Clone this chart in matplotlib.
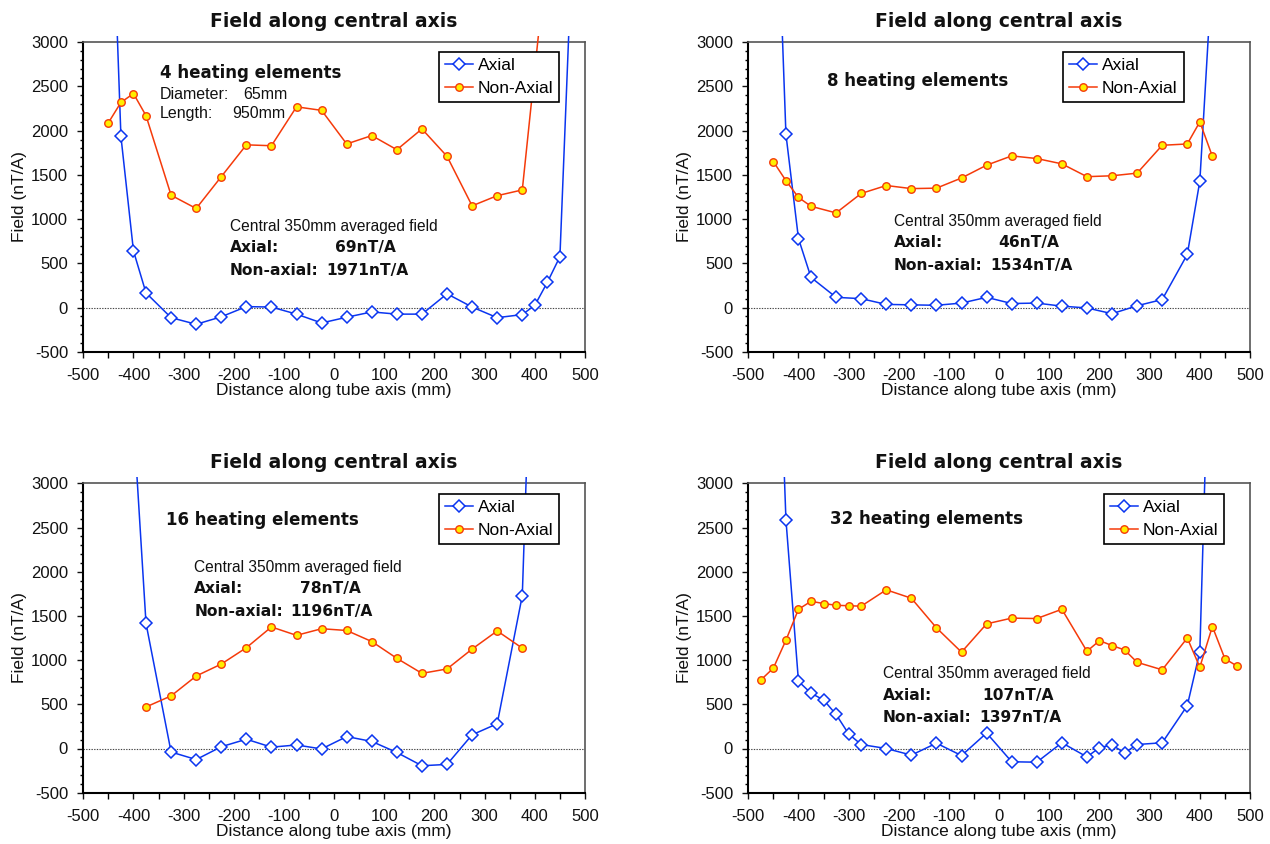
import matplotlib
matplotlib.use("Agg")
import matplotlib.pyplot as plt
from matplotlib.patches import Rectangle
from matplotlib.ticker import MultipleLocator

plt.rcParams['font.family'] = ['Liberation Sans', 'DejaVu Sans']
plt.rcParams['axes.unicode_minus'] = False

# ---------------- data ----------------
titles = ["Field along central axis"] * 4
elements = ["4 heating elements", "8 heating elements",
            "16 heating elements", "32 heating elements"]
axial_avg = ["69nT/A", "46nT/A", "78nT/A", "107nT/A"]
nonaxial_avg = ["1971nT/A", "1534nT/A", "1196nT/A", "1397nT/A"]

# 4 heating elements
p1_na_x = [-450, -425, -400, -375, -325, -275, -225, -175, -125, -75, -25, 25, 75, 125, 175, 225, 275, 325, 375, 425]
p1_na_y = [2090, 2320, 2420, 2170, 1270, 1120, 1480, 1840, 1830, 2270, 2230, 1850, 1945, 1785, 2020, 1710, 1150, 1265, 1330, 4050]
p1_ax_x = [-450, -425, -400, -375, -325, -275, -225, -175, -125, -75, -25, 25, 75, 125, 175, 225, 275, 325, 375, 400, 425, 450, 475]
p1_ax_y = [5900, 1935, 640, 165, -115, -190, -105, 10, 5, -75, -175, -110, -50, -75, -75, 155, 5, -115, -80, 25, 285, 575, 4150]

# 8 heating elements
p2_na_x = [-450, -425, -400, -375, -325, -275, -225, -175, -125, -75, -25, 25, 75, 125, 175, 225, 275, 325, 375, 400, 425]
p2_na_y = [1650, 1435, 1245, 1145, 1070, 1290, 1380, 1345, 1350, 1465, 1610, 1715, 1685, 1625, 1480, 1490, 1520, 1835, 1850, 2100, 1710]
p2_ax_x = [-450, -425, -400, -375, -325, -275, -225, -175, -125, -75, -25, 25, 75, 125, 175, 225, 275, 325, 375, 400, 425]
p2_ax_y = [5900, 1960, 780, 340, 115, 100, 35, 30, 25, 50, 115, 45, 50, 15, -5, -70, 20, 90, 600, 1430, 3850]

# 16 heating elements
p3_na_x = [-375, -325, -275, -225, -175, -125, -75, -25, 25, 75, 125, 175, 225, 275, 325, 375]
p3_na_y = [470, 595, 820, 955, 1140, 1375, 1280, 1355, 1335, 1210, 1020, 850, 900, 1125, 1330, 1135]
p3_ax_x = [-400, -375, -325, -275, -225, -175, -125, -75, -25, 25, 75, 125, 175, 225, 275, 325, 375, 400]
p3_ax_y = [3720, 1415, -40, -125, 20, 105, 15, 40, -5, 135, 80, -45, -195, -180, 155, 280, 1730, 6000]

# 32 heating elements
p4_na_x = [-475, -450, -425, -400, -375, -350, -325, -300, -275, -225, -175, -125, -75, -25, 25, 75, 125, 175, 200, 225, 250, 275, 325, 375, 400, 425, 450, 475]
p4_na_y = [775, 910, 1225, 1575, 1665, 1640, 1620, 1615, 1610, 1795, 1700, 1365, 1090, 1410, 1475, 1470, 1575, 1100, 1220, 1165, 1115, 975, 890, 1250, 920, 1380, 1015, 930]
p4_ax_x = [-450, -425, -400, -375, -350, -325, -300, -275, -225, -175, -125, -75, -25, 25, 75, 125, 175, 200, 225, 250, 275, 325, 375, 400, 425]
p4_ax_y = [6500, 2590, 760, 625, 550, 385, 165, 45, 0, -75, 60, -80, 175, -150, -155, 65, -95, 10, 40, -50, 45, 65, 485, 1095, 6000]

series = [
    (p1_ax_x, p1_ax_y, p1_na_x, p1_na_y),
    (p2_ax_x, p2_ax_y, p2_na_x, p2_na_y),
    (p3_ax_x, p3_ax_y, p3_na_x, p3_na_y),
    (p4_ax_x, p4_ax_y, p4_na_x, p4_na_y),
]

# ---------------- layout ----------------
W, H = 1270, 844
fig = plt.figure(figsize=(W / 100, H / 100), dpi=100)

def px_axes(left, top, right, bottom):
    return [left / W, 1 - bottom / H, (right - left) / W, (bottom - top) / H]

rects = [
    px_axes(83.3, 42.3, 585, 351.7),
    px_axes(748.3, 42.3, 1250, 351.7),
    px_axes(83.3, 483.3, 585, 792.7),
    px_axes(748.3, 483.3, 1250, 792.7),
]

legend_anchor = [(0.949, 0.968), (0.868, 0.970), (0.949, 0.965), (0.949, 0.965)]

head_pos = [(-348, 2650), (-344, 2566), (-336, 2589), (-338, 2600)]
cent_pos = [(-208, 914), (-210, 978), (-279, 2042), (-232, 846)]
axl_y = [676, 737, 1808, 601]
nax_y = [424, 480, 1551, 352]
axv_x = [2, -2, -69, -33]
naxv_x = [-15, -18, -87, -40]

BLUE = '#0a35f0'
RED = '#f53a0a'
YEL = '#ffee00'
BOLD = ['DejaVu Sans']
TXT = '#111111'

for i, r in enumerate(rects):
    ax = fig.add_axes(r)
    axx, axy, nax, nay = series[i]
    ax.set_xlim(-500, 500)
    ax.set_ylim(-500, 3000)
    ax.axhline(0, color='#444444', lw=0.8, ls=(0, (1.2, 1.2)), zorder=1)

    clip = Rectangle((0, 0), 1, 1.02, transform=ax.transAxes, facecolor='none', edgecolor='none')
    ax.add_patch(clip)
    l1, = ax.plot(axx, axy, color=BLUE, lw=1.1, marker='D', ms=6.2, mfc='white',
                  mec=BLUE, mew=1.1, label='Axial', zorder=3)
    l2, = ax.plot(nax, nay, color=RED, lw=1.1, marker='o', ms=5.4, mfc=YEL,
                  mec=RED, mew=1.0, label='Non-Axial', zorder=4)
    for ln in (l1, l2):
        ln.set_clip_path(clip)

    ax.xaxis.set_major_locator(MultipleLocator(100))
    ax.xaxis.set_minor_locator(MultipleLocator(50))
    ax.yaxis.set_major_locator(MultipleLocator(500))
    ax.yaxis.set_minor_locator(MultipleLocator(100))
    ax.tick_params(axis='both', which='major', direction='out', length=4, width=1.0,
                   labelsize=12, colors=TXT)
    ax.tick_params(axis='x', which='major', pad=8)
    ax.tick_params(axis='y', which='major', pad=7)
    ax.tick_params(axis='x', which='minor', direction='out', length=4, width=1.0)
    ax.tick_params(axis='y', which='minor', direction='out', length=2.5, width=1.0)
    for s in ('left', 'bottom'):
        ax.spines[s].set_color('black')
        ax.spines[s].set_linewidth(1.5)
    for s in ('top', 'right'):
        ax.spines[s].set_color('#555555')
        ax.spines[s].set_linewidth(1.2)

    ax.set_xlabel('Distance along tube axis (mm)', fontsize=12.5, labelpad=0, color=TXT)
    ax.set_ylabel('Field (nT/A)', fontsize=12.5, labelpad=3, color=TXT)
    ax.set_title(titles[i], fontsize=13.5, fontweight='bold', family=BOLD, pad=11, color=TXT)

    leg = ax.legend(loc='upper right', bbox_to_anchor=legend_anchor[i], borderaxespad=0,
                    fontsize=12.5, handlelength=1.6, handletextpad=0.3, labelspacing=0.45,
                    borderpad=0.35, fancybox=False, framealpha=1, edgecolor='black')
    leg.get_frame().set_linewidth(1.2)

    hx, hy = head_pos[i]
    ax.text(hx, hy, elements[i], fontsize=12, fontweight='bold', family=BOLD,
            va='center', ha='left', color=TXT)
    if i == 0:
        ax.text(hx, 2404, 'Diameter:', fontsize=11.5, va='center', ha='left', color=TXT)
        ax.text(-181, 2404, '65mm', fontsize=11.5, va='center', ha='left', color=TXT)
        ax.text(hx, 2197, 'Length:', fontsize=11.5, va='center', ha='left', color=TXT)
        ax.text(-203, 2197, '950mm', fontsize=11.5, va='center', ha='left', color=TXT)
    cx, cy = cent_pos[i]
    ax.text(cx, cy, 'Central 350mm averaged field', fontsize=11.2, va='center', ha='left', color=TXT)
    ax.text(cx, axl_y[i], 'Axial:', fontsize=11.2, fontweight='bold', family=BOLD,
            va='center', ha='left', color=TXT)
    ax.text(axv_x[i], axl_y[i], axial_avg[i], fontsize=11.2, fontweight='bold', family=BOLD,
            va='center', ha='left', color=TXT)
    ax.text(cx, nax_y[i], 'Non-axial:', fontsize=11.2, fontweight='bold', family=BOLD,
            va='center', ha='left', color=TXT)
    ax.text(naxv_x[i], nax_y[i], nonaxial_avg[i], fontsize=11.2, fontweight='bold', family=BOLD,
            va='center', ha='left', color=TXT)

fig.savefig('out.png', dpi=100, facecolor='white')
